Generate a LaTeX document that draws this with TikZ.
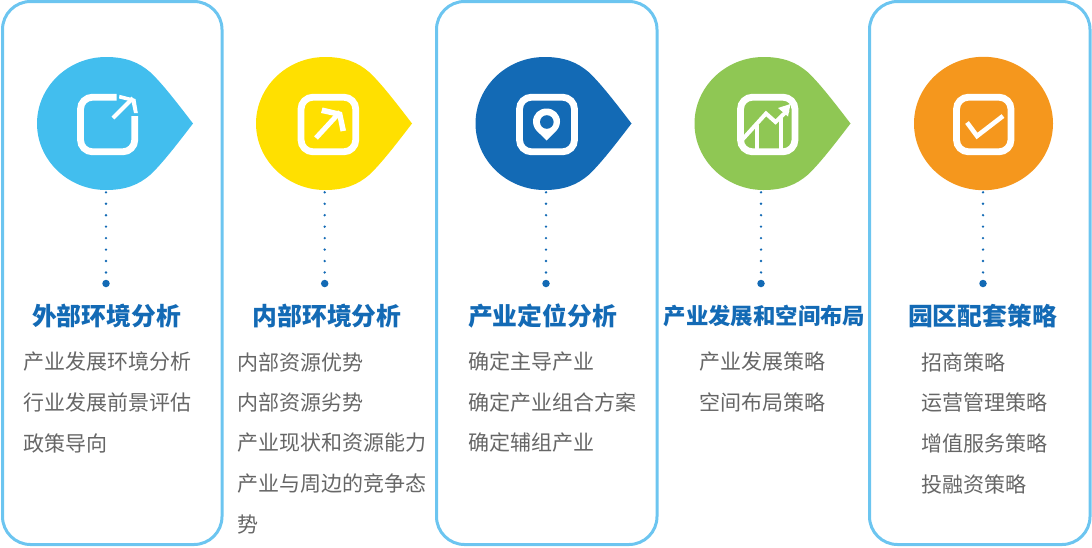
\documentclass[tikz,border=0pt]{standalone}
\usepackage{fontspec}
\setmainfont{Noto Sans CJK SC}
\definecolor{frameblue}{HTML}{6CC5F0}
\definecolor{titleblue}{HTML}{136AB5}
\definecolor{bodygray}{HTML}{666666}
\definecolor{dropA}{HTML}{42BEEE}
\definecolor{dropB}{HTML}{FFE000}
\definecolor{dropC}{HTML}{136AB5}
\definecolor{dropD}{HTML}{8FC754}
\definecolor{dropE}{HTML}{F5971D}
\tikzset{
  framebox/.style={draw=frameblue,line width=3pt,rounded corners=28pt},
  iconline/.style={draw=white,line width=6.8pt},
  iconthin/.style={draw=white,line width=4pt},
  leader/.style={draw=titleblue,line width=2.6pt,line cap=round,dash pattern=on 0pt off 11.45pt},
  enddot/.style={circle,fill=titleblue,inner sep=0pt,minimum size=7.5pt},
  titletext/.style={font=\fontsize{24.8}{28}\selectfont\bfseries,text=titleblue,inner sep=0pt,anchor=center},
  titlesmall/.style={titletext,font=\fontsize{22.4}{26}\selectfont\bfseries},
  bodytext/.style={font=\fontsize{21}{24}\selectfont,text=bodygray,inner sep=0pt,anchor=west},
}
\newcommand{\dropshape}[2]{%
  \fill[#2] (#1,57) .. controls (#1+20,57) and (#1+33,62.5) .. (#1+44,72)
    .. controls (#1+56,83) and (#1+72,104) .. (#1+87,123.5)
    .. controls (#1+72,143) and (#1+56,164) .. (#1+44,175)
    .. controls (#1+33,184.5) and (#1+20,190) .. (#1,190)
    .. controls (#1-38,190) and (#1-69,160) .. (#1-69,123.5)
    .. controls (#1-69,87) and (#1-38,57) .. (#1,57) -- cycle;}
\begin{document}
\begin{tikzpicture}[x=1pt,y=-1pt]
\useasboundingbox (0,0) rectangle (1092,547);
% frames
\draw[framebox] (2.5,1.5) rectangle (222,544.5);
\draw[framebox] (436.5,1.5) rectangle (657,544.5);
\draw[framebox] (869.5,1.5) rectangle (1090,544.5);
% drops
\dropshape{106}{dropA}
\dropshape{325}{dropB}
\dropshape{544.5}{dropC}
\dropshape{763.5}{dropD}
\fill[dropE] (983.5,123.5) ellipse [x radius=69.5,y radius=66.7];
% icon A
\draw[iconline,rounded corners=12pt] (116.5,97.2) -- (80.5,97.2) -- (80.5,151.8) -- (134.8,151.8) -- (134.8,116);
\draw[iconthin] (113,118) -- (133,98);
\fill[white] (119.5,94.8) -- (135.5,99) -- (137.8,113) -- (134,113) -- (131.5,101.5) -- (119,98.5) -- cycle;
% icon B
\draw[iconline,rounded corners=12pt] (301,97.2) rectangle (355.8,151.8);
\draw[white,line width=5pt] (316,138) -- (340,112);
\fill[white] (322.5,107.5) -- (342,112) -- (346,130.5) -- (340.5,131.5) -- (337.5,116.5) -- (321,113) -- cycle;
% icon C
\draw[iconline,rounded corners=12pt] (519.5,97.2) rectangle (574.5,151.8);
\fill[white] (546.5,140.5) -- (540,134) .. controls (535,130) and (533,126) .. (533,121.5)
  .. controls (533,114) and (539,108.5) .. (546.5,108.5)
  .. controls (554,108.5) and (560,114) .. (560,121.5)
  .. controls (560,126) and (558,130) .. (553,134) -- cycle;
\fill[dropC] (546.8,122) circle (6.8);
% icon D
\draw[iconline,rounded corners=12pt] (740.5,97.2) rectangle (795,151.8);
\draw[iconthin] (742,140) -- (766,113.5) -- (775.5,122) -- (788,110);
\fill[white] (778,108) -- (790.5,104) -- (788,116.5) -- cycle;
\draw[iconthin] (756.5,125) -- (756.5,150);
\draw[iconthin] (781,118) -- (781,150);
% icon E
\draw[iconline,rounded corners=12pt] (956.5,97.2) rectangle (1011,151.8);
\draw[white,line width=4.6pt] (967,122.5) -- (977,136) -- (1003,116);
% leaders
\coordinate (topA) at (106,192.3);
\coordinate (topB) at (324.7,192.3);
\coordinate (topC) at (546,192.3);
\coordinate (topD) at (761,192.3);
\coordinate (topE) at (983,192.3);
\node[enddot] (dotA) at (106,283.5) {};
\node[enddot] (dotB) at (324.7,283.5) {};
\node[enddot] (dotC) at (546,283.5) {};
\node[enddot] (dotD) at (761,283.5) {};
\node[enddot] (dotE) at (983,283.5) {};
\draw[leader] (topA) -- (dotA);
\draw[leader] (topB) -- (dotB);
\draw[leader] (topC) -- (dotC);
\draw[leader] (topD) -- (dotD);
\draw[leader] (topE) -- (dotE);
% titles
\node[titletext] (titleA) at (106.5,316) {外部环境分析};
\node[titletext] (titleB) at (327,316) {内部环境分析};
\node[titletext] (titleC) at (542.5,316) {产业定位分析};
\node[titlesmall] (titleD) at (764.5,316) {产业发展和空间布局};
\node[titletext] (titleE) at (982.5,316) {园区配套策略};
% bodies
\node[bodytext] (a1) at (23,362) {产业发展环境分析};
\node[bodytext] (a2) at (23,402.5) {行业发展前景评估};
\node[bodytext] (a3) at (23,443) {政策导向};
\node[bodytext] (b1) at (237,362) {内部资源优势};
\node[bodytext] (b2) at (237,402.5) {内部资源劣势};
\node[bodytext] (b3) at (237,443) {产业现状和资源能力};
\node[bodytext] (b4) at (237,484) {产业与周边的竞争态};
\node[bodytext] (b5) at (237,524.5) {势};
\node[bodytext] (c1) at (468.5,362) {确定主导产业};
\node[bodytext] (c2) at (468.5,402.5) {确定产业组合方案};
\node[bodytext] (c3) at (468.5,443) {确定辅组产业};
\node[bodytext] (d1) at (699.5,362) {产业发展策略};
\node[bodytext] (d2) at (699.5,402.5) {空间布局策略};
\node[bodytext] (e1) at (921.5,362) {招商策略};
\node[bodytext] (e2) at (921.5,402.5) {运营管理策略};
\node[bodytext] (e3) at (921.5,443) {增值服务策略};
\node[bodytext] (e4) at (921.5,484) {投融资策略};
\end{tikzpicture}
\end{document}
